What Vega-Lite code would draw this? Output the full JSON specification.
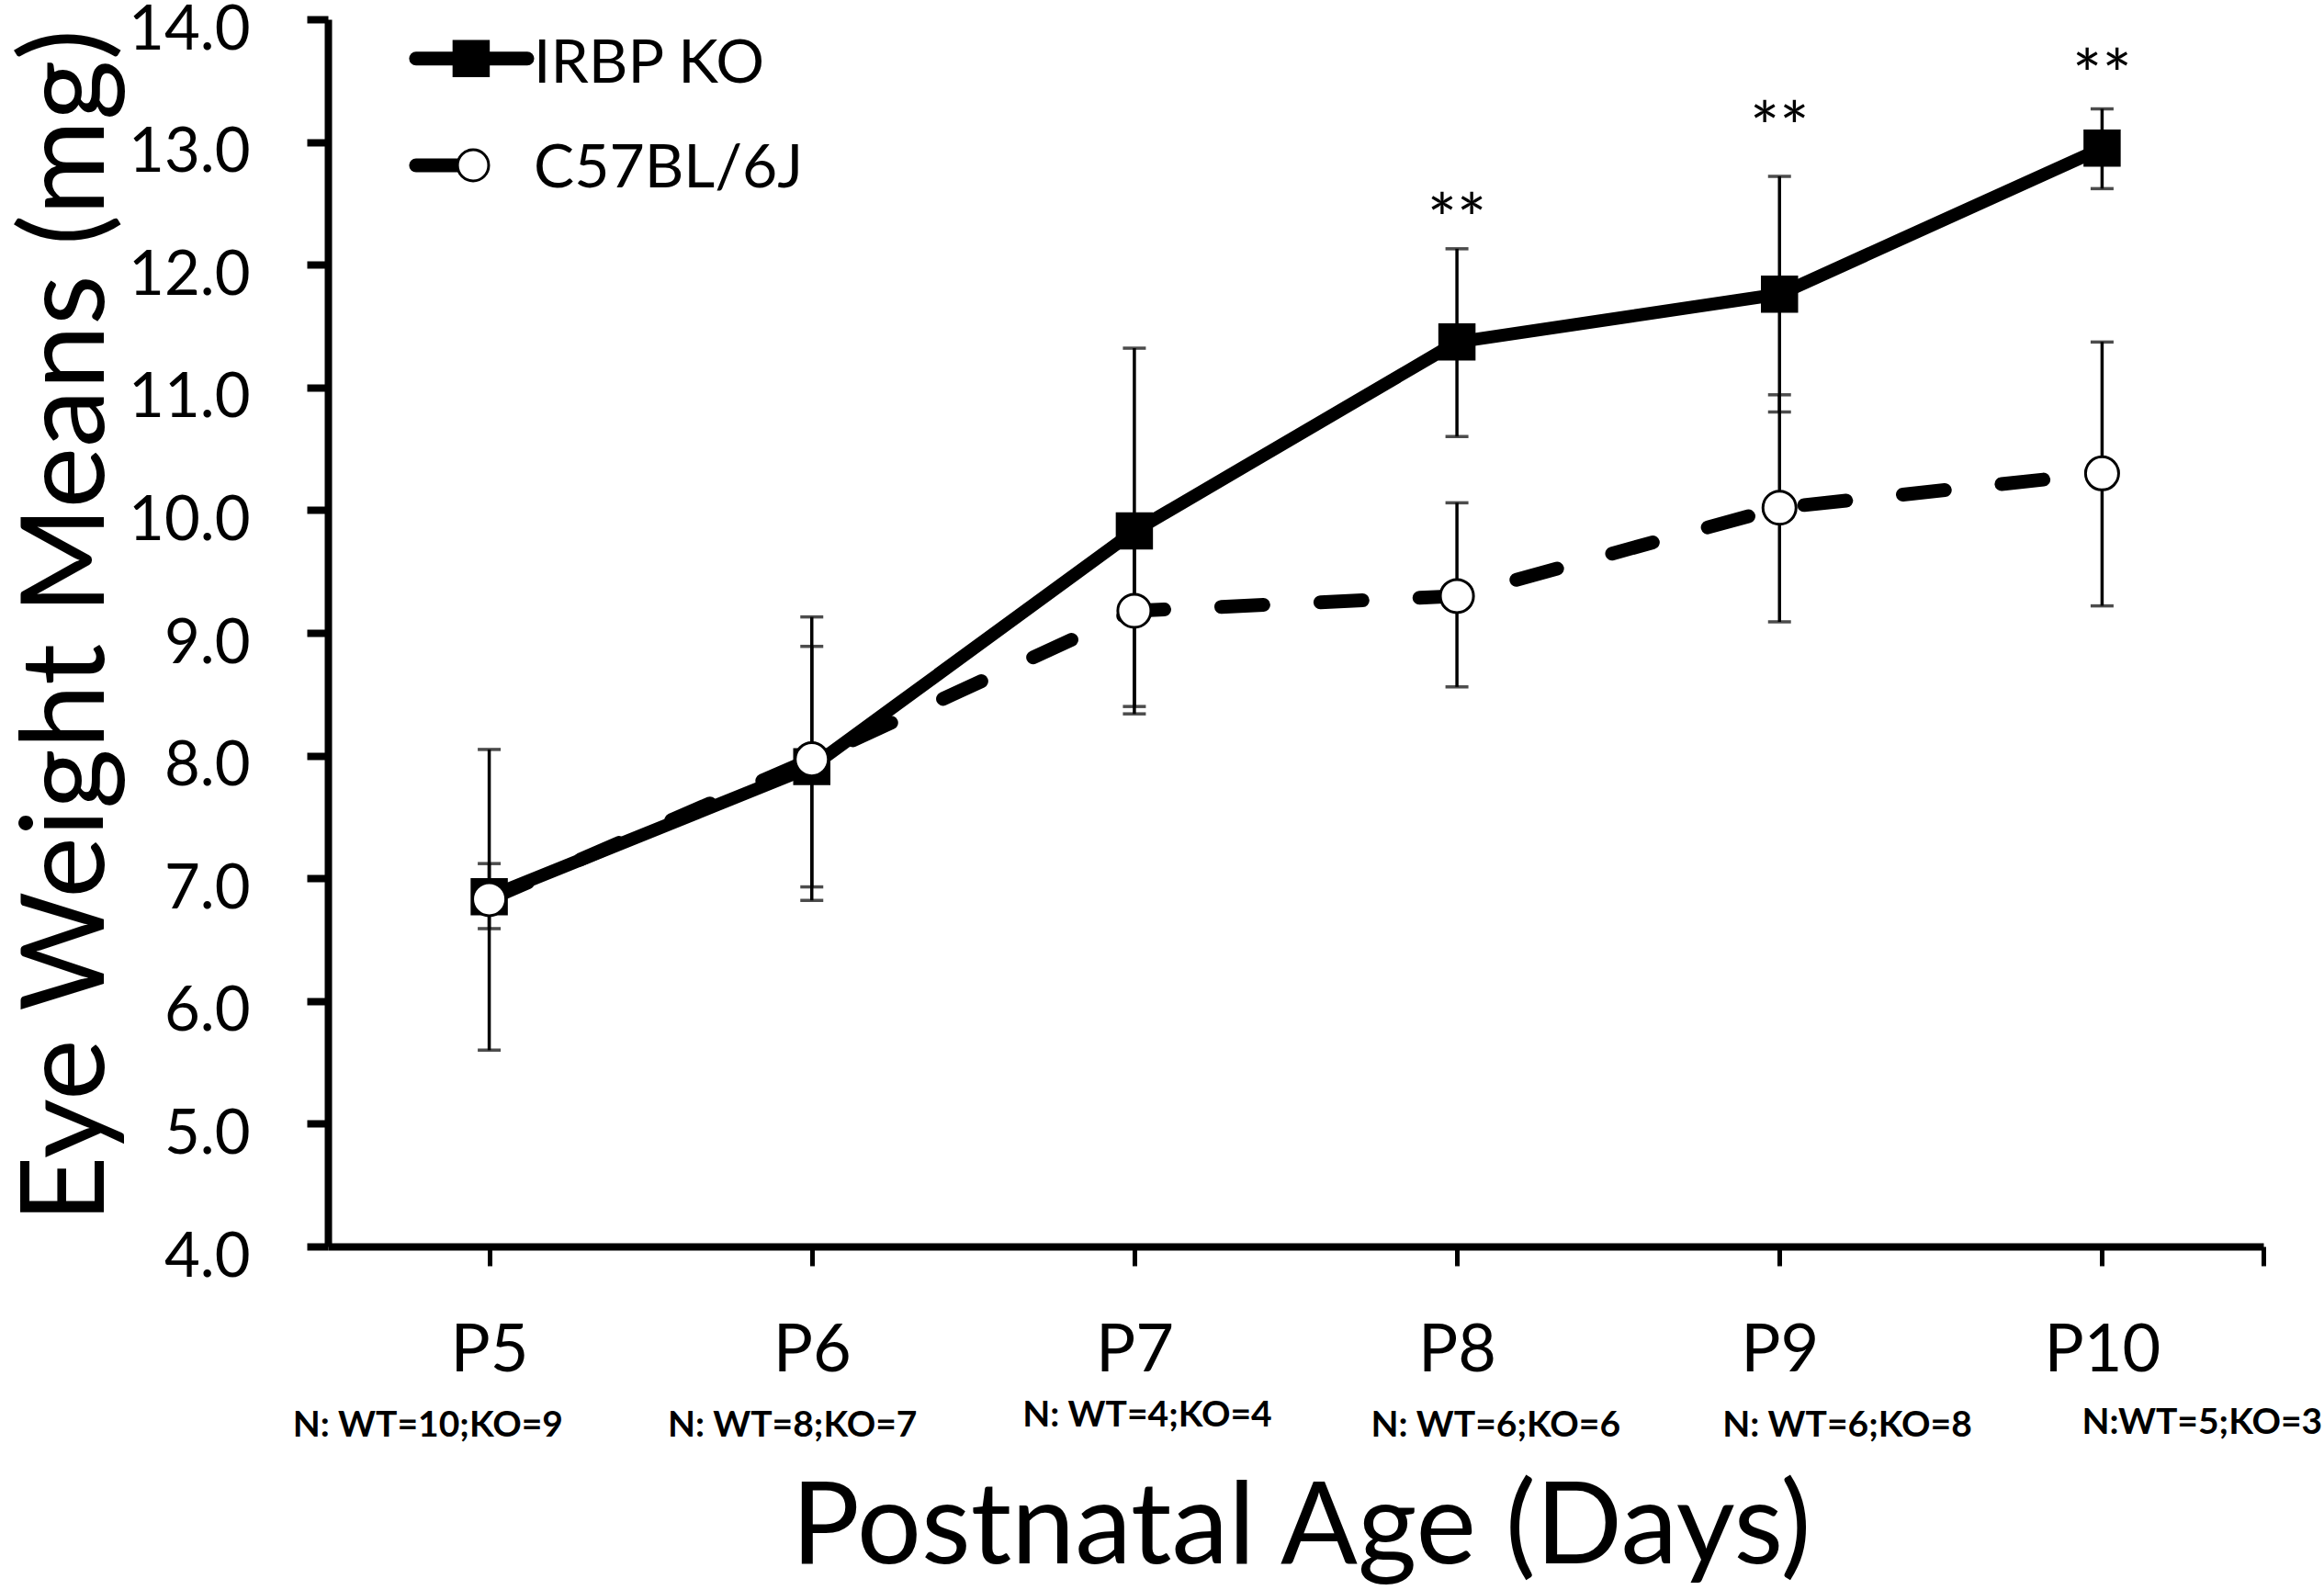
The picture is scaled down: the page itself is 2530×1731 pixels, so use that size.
{
  "$schema": "https://vega.github.io/schema/vega-lite/v6.json",
  "width": 2107,
  "height": 1336,
  "autosize": "none",
  "padding": {"left": 357, "top": 21, "right": 66, "bottom": 374},
  "background": "white",
  "config": {"view": {"stroke": null}, "font": "Lato"},
  "datasets": {
    "main": [
      {"day": 5, "group": "IRBP KO", "val": 6.85, "lo": 6.59, "hi": 7.12},
      {"day": 6, "group": "IRBP KO", "val": 7.91, "lo": 6.93, "hi": 8.89},
      {"day": 7, "group": "IRBP KO", "val": 9.83, "lo": 8.34, "hi": 11.32},
      {"day": 8, "group": "IRBP KO", "val": 11.37, "lo": 10.6, "hi": 12.13},
      {"day": 9, "group": "IRBP KO", "val": 11.76, "lo": 10.8, "hi": 12.72},
      {"day": 10, "group": "IRBP KO", "val": 12.95, "lo": 12.62, "hi": 13.27},
      {"day": 5, "group": "C57BL/6J", "val": 6.83, "lo": 5.6, "hi": 8.05},
      {"day": 6, "group": "C57BL/6J", "val": 7.97, "lo": 6.82, "hi": 9.13},
      {"day": 7, "group": "C57BL/6J", "val": 9.18, "lo": 8.4, "hi": 9.96},
      {"day": 8, "group": "C57BL/6J", "val": 9.3, "lo": 8.56, "hi": 10.06},
      {"day": 9, "group": "C57BL/6J", "val": 10.02, "lo": 9.09, "hi": 10.94},
      {"day": 10, "group": "C57BL/6J", "val": 10.3, "lo": 9.22, "hi": 11.37}
    ],
    "stars": [
      {"day": 8, "val": 12.34, "label": "**"},
      {"day": 9, "val": 13.09, "label": "**"},
      {"day": 10, "val": 13.51, "label": "**"}
    ],
    "nlabels": [
      {"day": 4.81, "val": 2.54, "label": "N: WT=10;KO=9"},
      {"day": 5.94, "val": 2.54, "label": "N: WT=8;KO=7"},
      {"day": 7.04, "val": 2.62, "label": "N: WT=4;KO=4"},
      {"day": 8.12, "val": 2.54, "label": "N: WT=6;KO=6"},
      {"day": 9.21, "val": 2.54, "label": "N: WT=6;KO=8"},
      {"day": 10.31, "val": 2.56, "label": "N:WT=5;KO=3"}
    ],
    "legendLines": [
      {"day": 4.773, "day2": 5.118, "val": 13.68, "group": "IRBP KO"},
      {"day": 4.773, "day2": 4.9, "val": 12.81, "group": "C57BL/6J"}
    ],
    "legendPts": [
      {"day": 4.944, "val": 13.68, "group": "IRBP KO"},
      {"day": 4.95, "val": 12.81, "group": "C57BL/6J"}
    ],
    "legendText": [
      {"day": 5.138, "val": 13.63, "label": "IRBP KO"},
      {"day": 5.138, "val": 12.78, "label": "C57BL/6J"}
    ]
  },
  "layer": [
    {
      "data": {"name": "main"},
      "mark": {"type": "rule", "color": "black", "strokeWidth": 3.5},
      "encoding": {
        "x": {
          "field": "day", "type": "quantitative",
          "scale": {"domain": [4.5, 10.5], "nice": false, "zero": false},
          "axis": {
            "title": "Postnatal Age (Days)",
            "values": [5, 6, 7, 8, 9, 10, 10.5],
            "labelExpr": "datum.value > 10.2 ? '' : 'P' + datum.value",
            "labelFont": "Lato", "labelFontSize": 72, "labelColor": "black",
            "labelBaseline": "alphabetic", "labelPadding": 114,
            "labelFlush": false, "labelOverlap": false,
            "tickSize": 21, "tickWidth": 5, "tickColor": "black",
            "domainColor": "black", "domainWidth": 8,
            "grid": false,
            "titleFont": "Lato", "titleFontSize": 124, "titleFontWeight": "normal", "titleColor": "black",
            "titleBaseline": "alphabetic", "titleY": 344, "titleX": 1059, "titleAlign": "center"
          }
        },
        "y": {
          "field": "lo", "type": "quantitative",
          "scale": {"domain": [4, 14], "nice": false, "zero": false},
          "axis": {
            "title": "Eye Weight Means (mg)",
            "values": [4, 5, 6, 7, 8, 9, 10, 11, 12, 13, 14],
            "format": ".1f",
            "labelFont": "Lato", "labelFontSize": 67, "labelColor": "black",
            "labelPadding": 62, "labelOffset": 12, "labelFlush": false, "labelOverlap": false,
            "tickSize": 23, "tickWidth": 8, "tickColor": "black",
            "domainColor": "black", "domainWidth": 8,
            "grid": false,
            "titleFont": "Lato", "titleFontSize": 126, "titleFontWeight": "normal", "titleColor": "black",
            "titleAngle": -90, "titleBaseline": "alphabetic", "titleAlign": "center",
            "titleX": -245, "titleY": 660
          }
        },
        "y2": {"field": "hi"}
      }
    },
    {
      "data": {"name": "main"},
      "mark": {"type": "tick", "orient": "horizontal", "color": "black", "size": 25, "thickness": 3.5},
      "encoding": {
        "x": {"field": "day", "type": "quantitative"},
        "y": {"field": "lo", "type": "quantitative"}
      }
    },
    {
      "data": {"name": "main"},
      "mark": {"type": "tick", "orient": "horizontal", "color": "black", "size": 25, "thickness": 3.5},
      "encoding": {
        "x": {"field": "day", "type": "quantitative"},
        "y": {"field": "hi", "type": "quantitative"}
      }
    },
    {
      "data": {"name": "main"},
      "transform": [{"filter": "datum.group === 'IRBP KO'"}],
      "mark": {"type": "line", "color": "black", "strokeWidth": 14, "strokeJoin": "round"},
      "encoding": {
        "x": {"field": "day", "type": "quantitative"},
        "y": {"field": "val", "type": "quantitative"}
      }
    },
    {
      "data": {"name": "main"},
      "transform": [{"filter": "datum.group === 'C57BL/6J'"}],
      "mark": {"type": "line", "color": "black", "strokeWidth": 15, "strokeCap": "round", "strokeDash": [46, 62]},
      "encoding": {
        "x": {"field": "day", "type": "quantitative"},
        "y": {"field": "val", "type": "quantitative"}
      }
    },
    {
      "data": {"name": "main"},
      "transform": [{"filter": "datum.group === 'IRBP KO'"}],
      "mark": {"type": "point", "shape": "square", "filled": true, "color": "black", "size": 1640, "opacity": 1},
      "encoding": {
        "x": {"field": "day", "type": "quantitative"},
        "y": {"field": "val", "type": "quantitative"}
      }
    },
    {
      "data": {"name": "main"},
      "transform": [{"filter": "datum.group === 'C57BL/6J'"}],
      "mark": {"type": "point", "shape": "circle", "filled": false, "fill": "white", "stroke": "black", "strokeWidth": 3, "size": 1300, "opacity": 1},
      "encoding": {
        "x": {"field": "day", "type": "quantitative"},
        "y": {"field": "val", "type": "quantitative"}
      }
    },
    {
      "data": {"name": "stars"},
      "mark": {"type": "text", "font": "Lato", "fontSize": 76, "color": "black", "align": "center", "baseline": "middle", "clip": false},
      "encoding": {
        "x": {"field": "day", "type": "quantitative"},
        "y": {"field": "val", "type": "quantitative"},
        "text": {"field": "label"}
      }
    },
    {
      "data": {"name": "nlabels"},
      "mark": {"type": "text", "font": "Lato", "fontSize": 39, "fontWeight": "bold", "color": "black", "align": "center", "baseline": "middle", "clip": false},
      "encoding": {
        "x": {"field": "day", "type": "quantitative"},
        "y": {"field": "val", "type": "quantitative"},
        "text": {"field": "label"}
      }
    },
    {
      "data": {"name": "legendLines"},
      "mark": {"type": "rule", "color": "black", "strokeWidth": 15, "strokeCap": "round"},
      "encoding": {
        "x": {"field": "day", "type": "quantitative"},
        "x2": {"field": "day2"},
        "y": {"field": "val", "type": "quantitative"}
      }
    },
    {
      "data": {"name": "legendPts"},
      "transform": [{"filter": "datum.group === 'IRBP KO'"}],
      "mark": {"type": "point", "shape": "square", "filled": true, "color": "black", "size": 1640, "opacity": 1},
      "encoding": {
        "x": {"field": "day", "type": "quantitative"},
        "y": {"field": "val", "type": "quantitative"}
      }
    },
    {
      "data": {"name": "legendPts"},
      "transform": [{"filter": "datum.group === 'C57BL/6J'"}],
      "mark": {"type": "point", "shape": "circle", "filled": false, "fill": "white", "stroke": "black", "strokeWidth": 3, "size": 1150, "opacity": 1},
      "encoding": {
        "x": {"field": "day", "type": "quantitative"},
        "y": {"field": "val", "type": "quantitative"}
      }
    },
    {
      "data": {"name": "legendText"},
      "mark": {"type": "text", "font": "Lato", "fontSize": 66, "color": "black", "align": "left", "baseline": "middle", "clip": false},
      "encoding": {
        "x": {"field": "day", "type": "quantitative"},
        "y": {"field": "val", "type": "quantitative"},
        "text": {"field": "label"}
      }
    }
  ]
}
